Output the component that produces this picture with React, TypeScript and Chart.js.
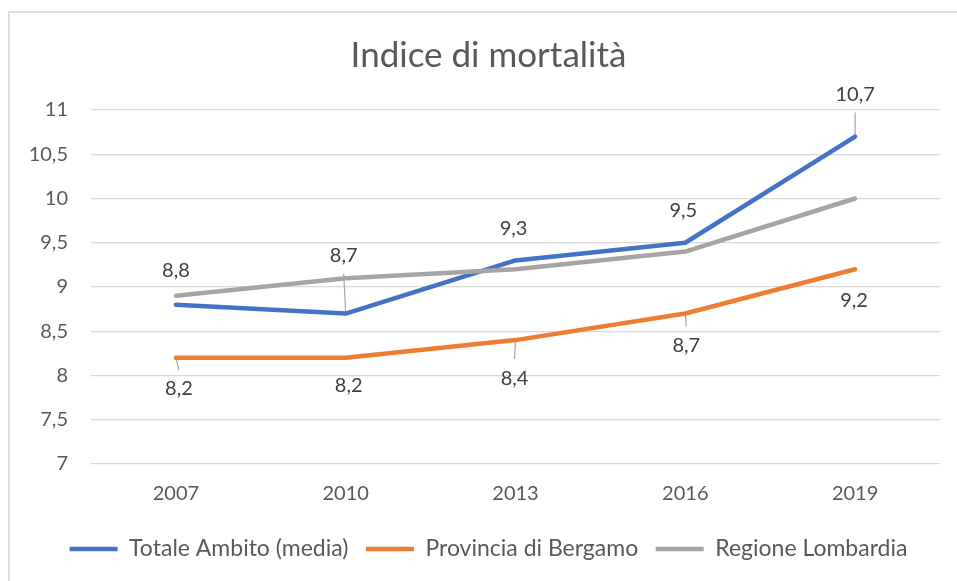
import React, { useEffect, useRef } from "react";
import { Chart, registerables } from "chart.js";

Chart.register(...registerables);

// ---- data ----
const years = ["2007", "2010", "2013", "2016", "2019"];
const totaleAmbito = [8.8, 8.7, 9.3, 9.5, 10.7];
const provinciaBergamo = [8.2, 8.2, 8.4, 8.7, 9.2];
const regioneLombardia = [8.9, 9.1, 9.2, 9.4, 10.0];
const seriesNames = ["Totale Ambito (media)", "Provincia di Bergamo", "Regione Lombardia"];
const titleText = "Indice di mortalità";
const yMin = 7;
const yMax = 11;
const yStep = 0.5;

// ---- label placement (pixel offsets from each point) ----
const blueLabelOffsets = [[0, -34], [-2, -58], [-2, -32], [-2, -32], [0, -42]];
const blueLeaders = [false, true, false, false, true];
const orangeLabelOffsets = [[3, 31], [3, 28], [-1, 38], [1, 32], [-1, 31]];
const orangeLeaders = [true, false, true, true, false];

const FONT = "Lato, 'Open Sans', 'Liberation Sans', sans-serif";
const fmt = (v: number) => String(v).replace(".", ",");

const labelSets = [
  { ds: 0, offsets: blueLabelOffsets, leaders: blueLeaders },
  { ds: 1, offsets: orangeLabelOffsets, leaders: orangeLeaders },
];

const dataLabelPlugin = {
  id: "dataLabelsCustom",
  beforeDatasetsDraw(chart: any) {
    const ctx = chart.ctx;
    ctx.save();
    ctx.strokeStyle = "#a6a6a6";
    ctx.lineWidth = 1.2;
    labelSets.forEach((cfg) => {
      const meta = chart.getDatasetMeta(cfg.ds);
      meta.data.forEach((pt: any, i: number) => {
        if (!cfg.leaders[i]) return;
        const [dx, dy] = cfg.offsets[i];
        const lx = pt.x + dx;
        const ly = pt.y + dy;
        const endY = dy < 0 ? ly + 18 : ly - 19;
        ctx.beginPath();
        ctx.moveTo(pt.x, pt.y);
        ctx.lineTo(lx, endY);
        ctx.stroke();
      });
    });
    ctx.restore();
  },
  afterDatasetsDraw(chart: any) {
    const ctx = chart.ctx;
    ctx.save();
    ctx.fillStyle = "#404040";
    ctx.font = `20px ${FONT}`;
    ctx.textAlign = "center";
    ctx.textBaseline = "middle";
    labelSets.forEach((cfg) => {
      const meta = chart.getDatasetMeta(cfg.ds);
      const data = chart.data.datasets[cfg.ds].data;
      meta.data.forEach((pt: any, i: number) => {
        const [dx, dy] = cfg.offsets[i];
        ctx.fillText(fmt(data[i]), pt.x + dx, pt.y + dy);
      });
    });
    ctx.restore();
  },
};

export default function App() {
  const canvasRef = useRef<HTMLCanvasElement | null>(null);

  useEffect(() => {
    if (!canvasRef.current) return;
    Chart.defaults.font.family = FONT;
    Chart.defaults.color = "#595959";
    const lineStyle = (color: string) => ({
      borderColor: color,
      backgroundColor: color,
      borderWidth: 4.5,
      borderCapStyle: "round" as const,
      borderJoinStyle: "round" as const,
      pointRadius: 0,
      pointHoverRadius: 0,
      tension: 0,
      fill: false,
    });
    const chart = new Chart(canvasRef.current, {
      type: "line",
      data: {
        labels: years,
        datasets: [
          { label: seriesNames[0], data: totaleAmbito, order: 2, ...lineStyle("#4472C4") },
          { label: seriesNames[1], data: provinciaBergamo, order: 1, ...lineStyle("#ED7D31") },
          { label: seriesNames[2], data: regioneLombardia, order: 0, ...lineStyle("#A5A5A5") },
        ],
      },
      options: {
        animation: false,
        responsive: false,
        events: [],
        layout: { padding: { left: 20, right: 0, top: 0, bottom: 10.5 } },
        plugins: {
          title: {
            display: true,
            text: titleText,
            color: "#595959",
            font: { size: 35, weight: "normal", family: FONT },
            padding: { top: 34.5, bottom: 33.5 },
          },
          legend: {
            display: true,
            position: "bottom",
            labels: {
              usePointStyle: true,
              pointStyle: "line",
              pointStyleWidth: 48,
              padding: 17.5,
              color: "#595959",
              font: { size: 23, family: FONT },
              sort: (a: any, b: any) => a.datasetIndex - b.datasetIndex,
            },
          },
          tooltip: { enabled: false },
        },
        scales: {
          x: {
            offset: true,
            grid: { display: false, drawTicks: false },
            border: { display: false },
            ticks: { padding: 18, color: "#595959", font: { size: 20, family: FONT } },
            afterFit: (scale: any) => {
              scale.height = 56;
            },
          },
          y: {
            min: yMin,
            max: yMax,
            grid: { color: "#d9d9d9", lineWidth: 1.3, drawTicks: false },
            border: { display: false },
            ticks: {
              stepSize: yStep,
              padding: 23,
              color: "#595959",
              font: { size: 20, family: FONT },
              callback: (v: any) => fmt(Number(v)),
            },
            afterFit: (scale: any) => {
              scale.width = 71;
            },
          },
          yRight: {
            position: "right",
            min: yMin,
            max: yMax,
            grid: { display: false, drawTicks: false },
            border: { display: false },
            ticks: { display: false },
            afterFit: (scale: any) => {
              scale.width = 17;
            },
          },
        },
      },
      plugins: [dataLabelPlugin],
    });
    return () => chart.destroy();
  }, []);

  return (
    <>
      <div
        style={{
          position: "fixed",
          left: 8,
          top: 11,
          width: 2000,
          height: 2000,
          border: "2px solid #dedede",
          boxSizing: "border-box",
        }}
      />
      <canvas
        ref={canvasRef}
        width={957}
        height={581}
        style={{ position: "fixed", left: 0, top: 0, width: 957, height: 581, display: "block" }}
      />
    </>
  );
}
